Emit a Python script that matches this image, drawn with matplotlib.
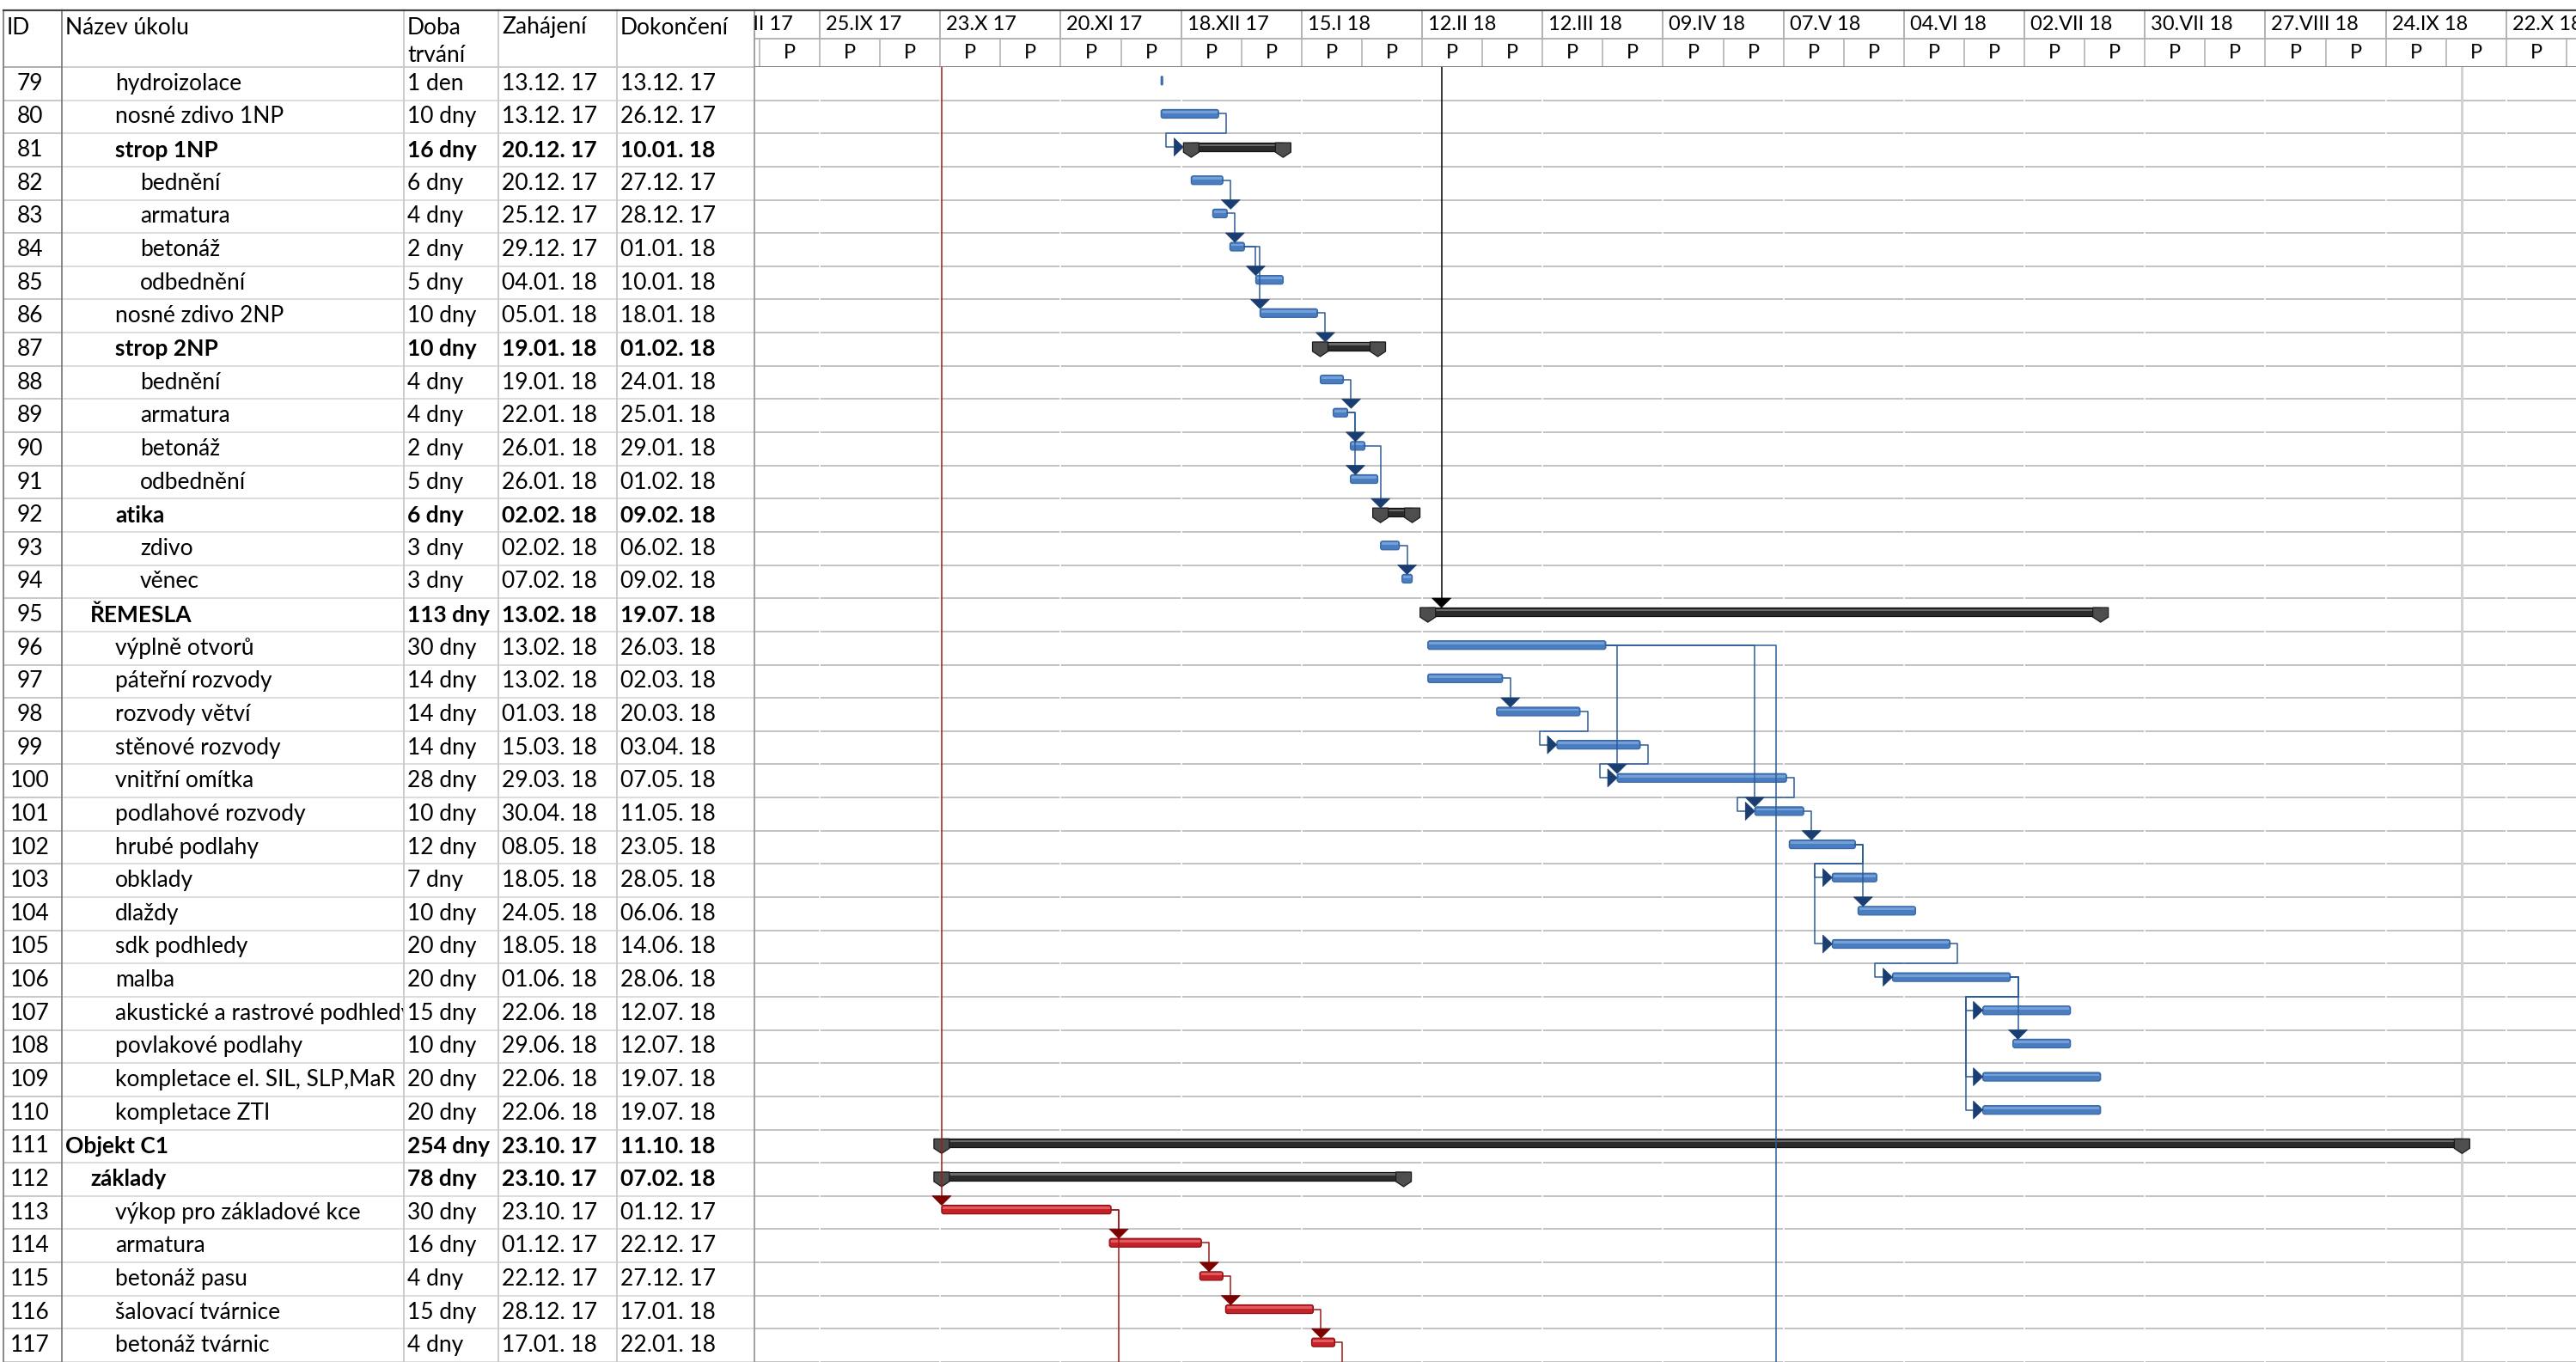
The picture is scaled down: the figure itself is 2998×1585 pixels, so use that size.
import numpy as np
import pandas as pd
import matplotlib
matplotlib.use('Agg')
import matplotlib.pyplot as plt
import matplotlib.dates as mdates
from matplotlib.patches import Polygon, Rectangle, FancyBboxPatch

plt.rcParams['font.family'] = ['Lato', 'DejaVu Sans']

# ---------------- data (read from the MS Project export) ----------------
ids = list(range(79, 118))
names = ['hydroizolace', 'nosné zdivo 1NP', 'strop 1NP', 'bednění', 'armatura',
         'betonáž', 'odbednění', 'nosné zdivo 2NP', 'strop 2NP', 'bednění',
         'armatura', 'betonáž', 'odbednění', 'atika', 'zdivo', 'věnec',
         'ŘEMESLA', 'výplně otvorů', 'páteřní rozvody', 'rozvody větví',
         'stěnové rozvody', 'vnitřní omítka', 'podlahové rozvody', 'hrubé podlahy',
         'obklady', 'dlaždy', 'sdk podhledy', 'malba',
         'akustické a rastrové podhledy', 'povlakové podlahy',
         'kompletace el. SIL, SLP,MaR', 'kompletace ZTI', 'Objekt C1', 'základy',
         'výkop pro základové kce', 'armatura', 'betonáž pasu', 'šalovací tvárnice',
         'betonáž tvárnic']
levels = [2, 2, 2, 3, 3, 3, 3, 2, 2, 3, 3, 3, 3, 2, 3, 3, 1,
          2, 2, 2, 2, 2, 2, 2, 2, 2, 2, 2, 2, 2, 2, 2, 0, 1, 2, 2, 2, 2, 2]
durations = ['1 den', '10 dny', '16 dny', '6 dny', '4 dny', '2 dny', '5 dny', '10 dny',
             '10 dny', '4 dny', '4 dny', '2 dny', '5 dny', '6 dny', '3 dny', '3 dny',
             '113 dny', '30 dny', '14 dny', '14 dny', '14 dny', '28 dny', '10 dny',
             '12 dny', '7 dny', '10 dny', '20 dny', '20 dny', '15 dny', '10 dny',
             '20 dny', '20 dny', '254 dny', '78 dny', '30 dny', '16 dny', '4 dny',
             '15 dny', '4 dny']
starts = ['13.12. 17', '13.12. 17', '20.12. 17', '20.12. 17', '25.12. 17', '29.12. 17',
          '04.01. 18', '05.01. 18', '19.01. 18', '19.01. 18', '22.01. 18', '26.01. 18',
          '26.01. 18', '02.02. 18', '02.02. 18', '07.02. 18', '13.02. 18', '13.02. 18',
          '13.02. 18', '01.03. 18', '15.03. 18', '29.03. 18', '30.04. 18', '08.05. 18',
          '18.05. 18', '24.05. 18', '18.05. 18', '01.06. 18', '22.06. 18', '29.06. 18',
          '22.06. 18', '22.06. 18', '23.10. 17', '23.10. 17', '23.10. 17', '01.12. 17',
          '22.12. 17', '28.12. 17', '17.01. 18']
finishes = ['13.12. 17', '26.12. 17', '10.01. 18', '27.12. 17', '28.12. 17', '01.01. 18',
            '10.01. 18', '18.01. 18', '01.02. 18', '24.01. 18', '25.01. 18', '29.01. 18',
            '01.02. 18', '09.02. 18', '06.02. 18', '09.02. 18', '19.07. 18', '26.03. 18',
            '02.03. 18', '20.03. 18', '03.04. 18', '07.05. 18', '11.05. 18', '23.05. 18',
            '28.05. 18', '06.06. 18', '14.06. 18', '28.06. 18', '12.07. 18', '12.07. 18',
            '19.07. 18', '19.07. 18', '11.10. 18', '07.02. 18', '01.12. 17', '22.12. 17',
            '27.12. 17', '17.01. 18', '22.01. 18']
summary_ids = [81, 87, 92, 95, 111, 112]
critical_ids = [113, 114, 115, 116, 117]

# links (predecessor, successor)
links_down = [(82, 83), (83, 84), (84, 85), (84, 86), (86, 87), (88, 89), (89, 90),
              (89, 91), (90, 92), (93, 94), (97, 98), (96, 100), (96, 101), (101, 102),
              (102, 104), (106, 108), (113, 114), (114, 115), (115, 116), (116, 117)]
links_s = [(80, 81), (98, 99), (99, 100), (100, 101), (102, 103), (102, 105),
           (105, 106), (106, 107), (106, 109), (106, 110)]
# predecessors above the visible rows: (successor, predecessor finish, predecessor kind)
links_from_above = [(95, '2018-02-14', 'summary'), (113, '2017-10-20', 'critical')]
# successors below the visible rows: (predecessor, successor start)
links_to_below = [(96, '2018-05-05'), (113, '2017-12-01'), (117, '2018-01-22')]

view_start, view_end = '2017-09-09 19:30', '2018-11-07 05:00'
roman = ['', 'I', 'II', 'III', 'IV', 'V', 'VI', 'VII', 'VIII', 'IX', 'X', 'XI', 'XII']

# ---------------- derived ----------------
st_d = pd.to_datetime(starts, format='%d.%m. %y')
fi_d = pd.to_datetime(finishes, format='%d.%m. %y')
t0 = mdates.date2num(st_d + pd.Timedelta(hours=8))
t1 = mdates.date2num(fi_d + pd.Timedelta(hours=17))
kind = ['summary' if i in summary_ids else 'critical' if i in critical_ids else 'task'
        for i in ids]
idx = {v: k for k, v in enumerate(ids)}

W, H = 2998, 1585
TOP, HDR = 12, 78
col_edges = [4, 72, 470, 580, 718, 878]
n = len(ids)
row_px = (H - HDR) / n
FS = 19
FS_T = 17

fig = plt.figure(figsize=(W / 100, H / 100), dpi=100)


def add_ax(x0, y0, x1, y1):
    a = fig.add_axes([x0 / W, 1 - y1 / H, (x1 - x0) / W, (y1 - y0) / H])
    a.set_xticks([]); a.set_yticks([])
    return a


y_top = -0.5 - (HDR - TOP) / row_px
y_bot = n - 0.5

# ---------------- table ----------------
titles = [['ID'], ['Název úkolu'], ['Doba', 'trvání'], ['Zahájení'], ['Dokončení']]
texts = [[str(i) for i in ids], names, durations, starts, finishes]
for c in range(5):
    x0, x1 = col_edges[c], col_edges[c + 1]
    ax = add_ax(x0, TOP, x1, H)
    ax.set_xlim(0, x1 - x0)
    ax.set_ylim(y_bot, y_top)
    for sp in ax.spines.values():
        sp.set_visible(False)
    ax.spines['top'].set_visible(True)
    ax.spines['top'].set_color('#404040'); ax.spines['top'].set_linewidth(1.6)
    ax.spines['left'].set_visible(True)
    ax.spines['left'].set_color('#7F7F7F' if c <= 1 else '#C8C8C8')
    ax.spines['left'].set_linewidth(1.3)
    linec = '#C4C4C4' if c == 0 else '#DADADA'
    for r in range(n):
        ax.axhline(r + 0.5, color=linec, lw=1.3, zorder=1)
    ax.axhline(-0.5, color='#A8A8A8' if c == 0 else '#C8C8C8', lw=1.3, zorder=1)
    hy = [y_top + (32 - TOP) / row_px, y_top + (65 - TOP) / row_px]
    for k, s in enumerate(titles[c]):
        ax.text(4, hy[k], s, ha='left', va='center', fontsize=FS, clip_on=True)
    for r in range(n):
        bold = 'bold' if kind[r] == 'summary' else 'normal'
        if c == 0:
            ax.text((x1 - x0) / 2 - 3, r, texts[c][r], ha='center', va='center',
                    fontsize=FS, clip_on=True)
        elif c == 1:
            ax.text(4 + 29 * levels[r], r, texts[c][r], ha='left', va='center',
                    fontsize=FS, fontweight=bold, clip_on=True)
        else:
            ax.text(4, r, texts[c][r], ha='left', va='center', fontsize=FS,
                    fontweight=bold, clip_on=True)

# ---------------- gantt ----------------
gx0 = col_edges[-1]
view = mdates.date2num([pd.Timestamp(view_start), pd.Timestamp(view_end)])
axh = add_ax(gx0, TOP, W, HDR)
axg = add_ax(gx0, HDR, W, H)
for a in (axh, axg):
    a.set_xlim(view)
    for sp in a.spines.values():
        sp.set_visible(False)
    a.spines['left'].set_visible(True)
    a.spines['left'].set_color('#9A9A9A'); a.spines['left'].set_linewidth(1.3)
axh.set_ylim(2, 0)
axg.set_ylim(y_bot, -0.5)
axh.spines['top'].set_visible(True)
axh.spines['top'].set_color('#404040'); axh.spines['top'].set_linewidth(1.6)
axh.spines['bottom'].set_visible(True)
axh.spines['bottom'].set_color('#808080'); axh.spines['bottom'].set_linewidth(1.4)

px_day = (W - gx0) / (view[1] - view[0])

majors = pd.date_range('2017-08-28', '2018-11-19', freq='28D')
minors = pd.date_range('2017-08-28', '2018-11-19', freq='14D')
mj = mdates.date2num(majors)
mn = mdates.date2num(minors)
axh.axhline(1, color='#A6A6A6', lw=1.2)
axh.vlines(mj, 0, 1, color='#A6A6A6', lw=1.2)
axh.vlines(mn, 1, 2, color='#B4B4B4', lw=1.2)
for d, x in zip(majors, mj):
    lab = f'{d.day:02d}.{roman[d.month]} {d.year % 100:02d}'
    axh.text(x + 7 / px_day, 0.5, lab, ha='left', va='center', fontsize=FS_T,
             clip_on=True)
for x in mn:
    axh.text(x + 7, 1.5, 'P', ha='center', va='center', fontsize=FS_T, clip_on=True)

# body grid
for r in range(n):
    axg.axhline(r + 0.5, color='#C2C2C2', lw=1.4, zorder=1)
axg.vlines(mj, -0.5, y_bot, color='white', lw=1.2, zorder=1.5)
axg.axvline(t1[idx[111]], color='#D2D2D2', lw=2.2, zorder=1.6)

# bar geometry
bh = 10 / row_px
boff = 3.5 / row_px
cap_w = 18 / px_day
cap_drop = 7 / row_px
asp = px_day / row_px

colors = {'task': ('#4A7DBF', '#3867A6', '#80A8DE'),
          'critical': ('#C4222B', '#8E1015', '#E86A6A')}


def yc(i):
    return i - boff


for i in range(n):
    top = yc(i) - bh / 2
    if kind[i] == 'summary':
        xs, xe = t0[i], t1[i]
        axg.add_patch(Rectangle((xs, top), xe - xs, bh, fc='#2B2B2B', ec='#111111',
                                lw=0.9, zorder=4))
        axg.add_patch(Rectangle((xs, top + 0.15 * bh), xe - xs, 0.25 * bh,
                                fc='#6A6A6A', ec='none', zorder=4.1))
        for xc in (xs, xe):
            axg.add_patch(Polygon([(xc - cap_w / 2, top), (xc + cap_w / 2, top),
                                   (xc + cap_w / 2, top + bh * 1.1),
                                   (xc, top + bh + cap_drop),
                                   (xc - cap_w / 2, top + bh * 1.1)],
                                  closed=True, fc='#4E4E4E', ec='#1A1A1A', lw=0.9,
                                  zorder=4.2))
    else:
        face, edge, light = colors[kind[i]]
        w = t1[i] - t0[i]
        rs = min(2.5 / px_day, w / 2)
        axg.add_patch(FancyBboxPatch((t0[i], top), w, bh,
                                     boxstyle=f'round,pad=0,rounding_size={rs}',
                                     mutation_aspect=asp, fc=face, ec=edge, lw=0.9,
                                     zorder=4))
        if w > 4 / px_day:
            axg.add_patch(Rectangle((t0[i] + 1.5 / px_day, top + 0.16 * bh),
                                    w - 3 / px_day, 0.28 * bh, fc=light, ec='none',
                                    alpha=0.8, zorder=4.1))

# links
stub = 9 / px_day
a_lx, a_ly = 11 / px_day, 11 / row_px
a_bx, a_by = 22 / px_day, 21 / row_px
s_left = 20 / px_day
link_col = {'task': ('#2C5C97', '#1B3E72'), 'critical': ('#9E1A1A', '#7B0000'),
            'summary': ('#000000', '#000000')}


def tip_x(j):
    return t0[j] - cap_w / 2 if kind[j] == 'summary' else t0[j]


def arrow_down(x, j, col):
    yt = yc(j) - bh / 2
    axg.add_patch(Polygon([(x - a_bx / 2, yt - a_ly), (x + a_bx / 2, yt - a_ly), (x, yt)],
                          closed=True, fc=col, ec=col, lw=0.5, zorder=6))
    return yt - a_ly


for p, s in links_down:
    i, j = idx[p], idx[s]
    lc, ac = link_col[kind[i]]
    xv = max(t0[j], t1[i] + stub)
    yb = arrow_down(xv, j, ac)
    axg.plot([t1[i], xv, xv], [yc(i), yc(i), yb], color=lc, lw=1.1, zorder=5)

for p, s in links_s:
    i, j = idx[p], idx[s]
    lc, ac = link_col[kind[i]]
    xv = t1[i] + stub
    xt = tip_x(j)
    xl = xt - s_left
    ys = yc(j)
    axg.plot([t1[i], xv, xv, xl, xl, xt - a_lx], [yc(i), yc(i), i + 0.5, i + 0.5, ys, ys],
             color=lc, lw=1.1, zorder=5)
    axg.add_patch(Polygon([(xt - a_lx, ys - a_by / 2), (xt - a_lx, ys + a_by / 2), (xt, ys)],
                          closed=True, fc=ac, ec=ac, lw=0.5, zorder=6))

for s, pf, pk in links_from_above:
    j = idx[s]
    lc, ac = link_col[pk]
    pe = mdates.date2num(pd.Timestamp(pf) + pd.Timedelta(hours=17))
    xv = max(t0[j], pe + stub)
    yb = arrow_down(xv, j, ac)
    axg.plot([xv, xv], [-0.5, yb], color=lc, lw=1.1, zorder=5)

for p, sd in links_to_below:
    i = idx[p]
    lc, ac = link_col[kind[i]]
    xv = max(mdates.date2num(pd.Timestamp(sd) + pd.Timedelta(hours=8)), t1[i] + stub)
    axg.plot([t1[i], xv, xv], [yc(i), yc(i), y_bot], color=lc, lw=1.1, zorder=5)

fig.savefig('out.png', dpi=100)
